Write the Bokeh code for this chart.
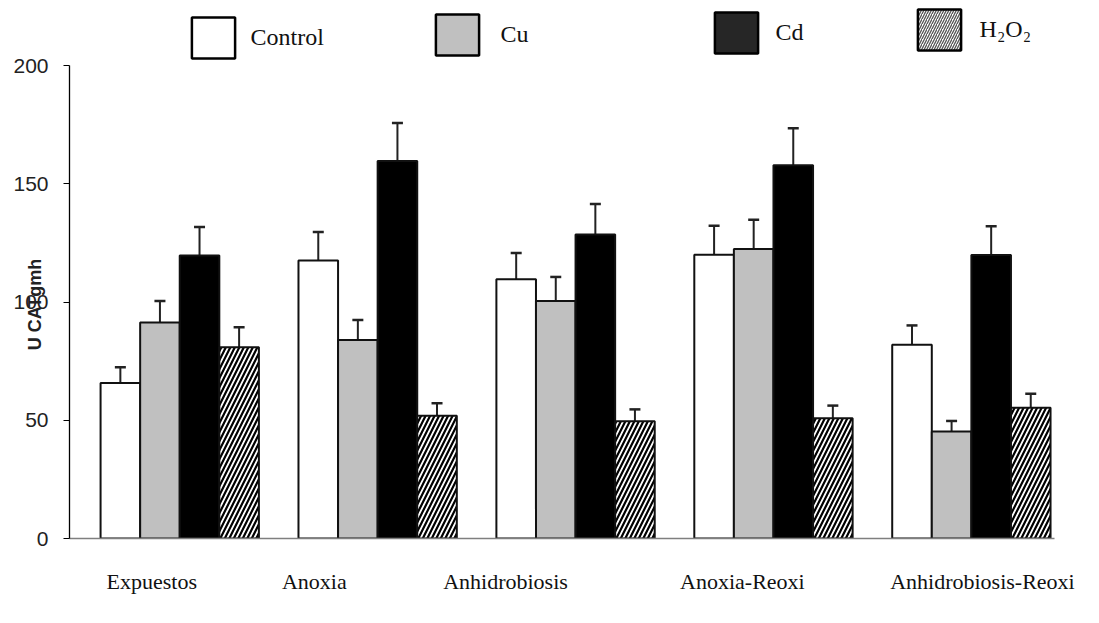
import numpy as np
from bokeh.plotting import figure
from bokeh.models import (Range1d, FixedTicker, Whisker, TeeHead, ColumnDataSource,
                          Legend, LegendItem)
from bokeh.embed import file_html
from bokeh.resources import INLINE

# ---------------- data ----------------
categories = ["Expuestos", "Anoxia", "Anhidrobiosis", "Anoxia-Reoxi", "Anhidrobiosis-Reoxi"]
series_names = ["Control", "Cu", "Cd", "H\u2082O\u2082"]

control = [65.8, 117.6, 109.6, 120.0, 81.9]
control_err = [6.6, 12.0, 11.1, 12.2, 8.2]
cu = [91.3, 83.9, 100.4, 122.4, 45.2]
cu_err = [9.1, 8.5, 10.2, 12.4, 4.5]
cd = [119.7, 159.6, 128.6, 157.8, 119.9]
cd_err = [12.0, 16.1, 12.9, 15.7, 12.1]
h2o2 = [80.9, 51.9, 49.6, 50.8, 55.3]
h2o2_err = [8.4, 5.3, 5.0, 5.4, 5.9]

y_ticks = [0, 50, 100, 150, 200]
y_label = "U CATgmh"

# --------------- layout / style ---------------
label_pos = [-0.141, 0.680, 1.646, 2.843, 4.056]   # where the category texts sit
offsets = [-0.3, -0.1, 0.1, 0.3]
bar_w = 0.2

p = figure(width=1083, height=607, output_backend="svg", toolbar_location=None,
           x_range=Range1d(-0.557, 4.420), y_range=Range1d(0, 227.5),
           min_border_left=69, min_border_right=29, min_border_top=0, min_border_bottom=69)
p.outline_line_color = None
p.xgrid.visible = False
p.ygrid.visible = False
p.background_fill_color = "white"

series = [
    (control, control_err, dict(fill_color="white")),
    (cu, cu_err, dict(fill_color="#c0c0c0")),
    (cd, cd_err, dict(fill_color="black")),
    (h2o2, h2o2_err, dict(fill_color="white", hatch_pattern="/", hatch_color="black",
                          hatch_scale=9, hatch_weight=2.2)),
]

idx = np.arange(len(categories))
for (vals, errs, style), off in zip(series, offsets):
    vals = np.array(vals)
    errs = np.array(errs)
    src = ColumnDataSource(dict(x=idx + off, top=vals, upper=vals + errs))
    p.vbar(x="x", top="top", width=bar_w, bottom=0, source=src,
           line_color="#111111", line_width=2, **style)
    w = Whisker(base="x", lower="top", upper="upper", source=src,
                line_color="#222222", line_width=2, lower_head=None,
                upper_head=TeeHead(size=11, line_color="#222222", line_width=2.5))
    p.add_layout(w)

# ---------- axes ----------
p.yaxis.ticker = FixedTicker(ticks=y_ticks)
p.yaxis.bounds = (0, 200)
p.yaxis.axis_line_color = "black"
p.yaxis.axis_line_width = 1.3
p.yaxis.major_tick_out = 6
p.yaxis.major_tick_in = 0
p.yaxis.minor_tick_line_color = None
p.yaxis.major_tick_line_color = "black"
p.yaxis.major_label_standoff = 15
p.yaxis.major_label_text_font = "Liberation Sans"
p.yaxis.major_label_text_font_size = "21px"
p.yaxis.major_label_text_color = "#222222"
# trailing no-break spaces move the centred title down to the reference position
p.yaxis.axis_label = y_label + "\u00a0" * 14
p.yaxis.axis_label_text_font = "Liberation Sans"
p.yaxis.axis_label_text_font_style = "bold"
p.yaxis.axis_label_text_font_size = "18px"
p.yaxis.axis_label_text_color = "#222222"
p.yaxis.axis_label_standoff = -35

p.xaxis.ticker = FixedTicker(ticks=label_pos)
p.xaxis.major_label_overrides = {pos: name for pos, name in zip(label_pos, categories)}
p.xaxis.axis_line_color = "#7f7f7f"
p.xaxis.axis_line_width = 1.6
p.xaxis.major_tick_line_color = None
p.xaxis.minor_tick_line_color = None
p.xaxis.major_label_standoff = 24
p.xaxis.major_label_text_font = "Liberation Serif"
p.xaxis.major_label_text_font_size = "22px"
p.xaxis.major_label_text_color = "#111111"

# ---------- legend (one per entry, free positions) ----------
legend_styles = [
    dict(fill_color="white"),
    dict(fill_color="#c0c0c0"),
    dict(fill_color="#262626"),
    dict(fill_color="white", hatch_pattern="/", hatch_color="#555555",
         hatch_scale=5, hatch_weight=1.3),
]
legend_loc = [(116.6, 475), (360.6, 478), (639.6, 480), (842.6, 483)]
legend_standoff = [11, 17, 13, 14]
for k, (name, style, loc, so) in enumerate(zip(series_names, legend_styles, legend_loc, legend_standoff)):
    # hidden stand-in renderer that only supplies the legend swatch style
    r = p.vbar(x=[idx[k]], top=[0], width=bar_w, line_color="black", line_width=2.5,
               visible=False, **style)
    lg = Legend(items=[LegendItem(label=name, renderers=[r])], location=loc,
                glyph_width=54, glyph_height=51, label_standoff=so,
                padding=0, margin=0, border_line_color=None, background_fill_alpha=0,
                label_text_font="Liberation Serif", label_text_font_size="24px",
                label_text_color="#111111")
    p.add_layout(lg)

open("out.html", "w").write(file_html(p, INLINE))
